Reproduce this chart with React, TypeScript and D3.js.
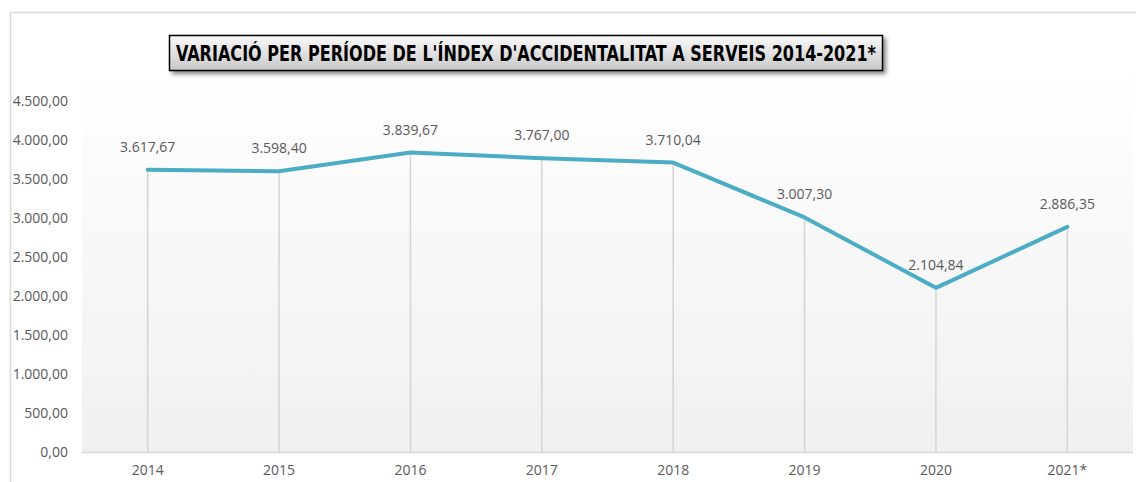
import React from "react";
import * as d3 from "d3";

const years = ["2014", "2015", "2016", "2017", "2018", "2019", "2020", "2021*"];
const values = [3617.67, 3598.4, 3839.67, 3767.0, 3710.04, 3007.3, 2104.84, 2886.35];
const yTicks = [0, 500, 1000, 1500, 2000, 2500, 3000, 3500, 4000, 4500];
const title = "VARIACIÓ PER PERÍODE DE L'ÍNDEX D'ACCIDENTALITAT A SERVEIS 2014-2021*";

const W = 1136;
const H = 482;
const plot = { left: 82, right: 1133, top: 101, bottom: 452 };

const locale = d3.formatLocale({ decimal: ",", thousands: ".", grouping: [3], currency: ["", "€"] });
const fmt = locale.format(",.2f");

export default function App() {
  const x = d3.scalePoint<string>().domain(years).range([plot.left, plot.right]).padding(0.5);
  const y = d3.scaleLinear().domain([0, 4500]).range([plot.bottom, plot.top]);
  const line = d3
    .line<number>()
    .x((_, i) => x(years[i]) as number)
    .y((d) => y(d));
  const font = "'Open Sans', 'Liberation Sans', sans-serif";

  return (
    <svg
      width={W}
      height={H}
      style={{ position: "absolute", left: 0, top: 0, background: "#fff" }}
    >
      <defs>
        <linearGradient id="bg" x1="0" y1="0" x2="0" y2="1">
          <stop offset="0" stopColor="#ffffff" />
          <stop offset="1" stopColor="#f0f0f0" />
        </linearGradient>
        <linearGradient id="tb" x1="0" y1="0" x2="0" y2="1">
          <stop offset="0" stopColor="#fafafa" />
          <stop offset="1" stopColor="#c8c8c8" />
        </linearGradient>
        <filter id="sh" x="-5%" y="-30%" width="110%" height="160%">
          <feDropShadow dx="3" dy="3" stdDeviation="2" floodColor="#000" floodOpacity="0.45" />
        </filter>
      </defs>

      {/* chart border */}
      <line x1={10} y1={12.5} x2={W} y2={12.5} stroke="#d9d9d9" strokeWidth={1.5} />
      <line x1={10.5} y1={12} x2={10.5} y2={H} stroke="#d9d9d9" strokeWidth={1.5} />

      {/* plot background */}
      <rect x={plot.left} y={62} width={plot.right - plot.left} height={plot.bottom - 62} fill="url(#bg)" />

      {/* y tick labels */}
      {yTicks.map((t) => (
        <text
          key={t}
          x={68}
          y={y(t)}
          dy="0.35em"
          textAnchor="end"
          fontFamily={font}
          fontSize={14}
          fill="#595959"
        >
          {fmt(t)}
        </text>
      ))}

      {/* drop lines */}
      {values.map((v, i) => (
        <line
          key={i}
          x1={x(years[i])}
          x2={x(years[i])}
          y1={y(v)}
          y2={plot.bottom}
          stroke="#d4d4d4"
          strokeWidth={1.5}
        />
      ))}

      {/* baseline */}
      <line x1={plot.left} x2={plot.right} y1={plot.bottom + 0.5} y2={plot.bottom + 0.5} stroke="#d9d9d9" strokeWidth={1.5} />

      {/* x labels */}
      {years.map((yr) => (
        <text
          key={yr}
          x={x(yr)}
          y={475}
          textAnchor="middle"
          fontFamily={font}
          fontSize={14}
          fill="#595959"
        >
          {yr}
        </text>
      ))}

      {/* line */}
      <path d={line(values) || ""} fill="none" stroke="#4bacc6" strokeWidth={4} strokeLinejoin="round" strokeLinecap="round" />

      {/* data labels */}
      {values.map((v, i) => (
        <text
          key={i}
          x={x(years[i])}
          y={y(v) - 18}
          textAnchor="middle"
          fontFamily={font}
          fontSize={14}
          fill="#595959"
        >
          {fmt(v)}
        </text>
      ))}

      {/* title */}
      <rect x={169.5} y={35.5} width={713} height={35} fill="url(#tb)" stroke="#000" strokeWidth={1.5} filter="url(#sh)" />
      <text
        x={526}
        y={61}
        textAnchor="middle"
        fontFamily="'Liberation Sans Narrow', 'DejaVu Sans Condensed', 'Liberation Sans', sans-serif"
        fontWeight="bold"
        fontSize={21}
        fill="#000"
        textLength={700}
        lengthAdjust="spacingAndGlyphs"
      >
        {title}
      </text>
    </svg>
  );
}
